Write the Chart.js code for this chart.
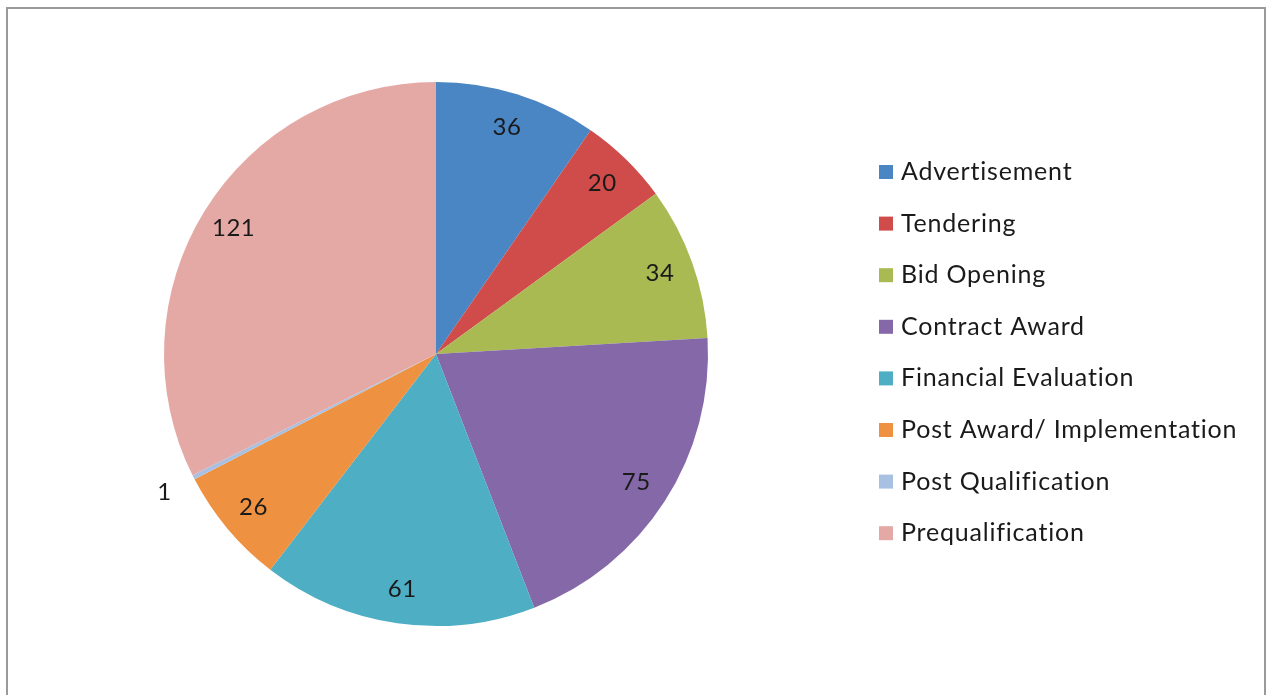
<!DOCTYPE html>
<html>
<head>
<meta charset="utf-8">
<script src="https://cdn.jsdelivr.net/npm/chart.js@4"></script>
<style>
html,body{margin:0;padding:0;background:#fff;}
#wrap{position:relative;width:1266px;height:695px;}
</style>
</head>
<body>
<div id="wrap"><canvas id="c" width="1266" height="695"></canvas></div>
<script>
const categories = ["Advertisement","Tendering","Bid Opening","Contract Award","Financial Evaluation","Post Award/ Implementation","Post Qualification","Prequalification"];
const values = [36,20,34,75,61,26,1,121];
const colors = ["#4A86C4","#CF4C4A","#A9BA52","#8468A8","#4DAEC4","#EE9141","#A8C0E2","#E5A9A5"];

const FONT = "Lato, 'Open Sans', sans-serif";

const framePlugin = {
  id: 'frame',
  beforeDraw(chart){
    const ctx = chart.ctx;
    ctx.save();
    ctx.fillStyle = '#fff';
    ctx.fillRect(0,0,chart.width,chart.height);
    ctx.strokeStyle = '#9a9a9a';
    ctx.lineWidth = 2;
    ctx.strokeRect(7,8,1258,720);
    ctx.restore();
  }
};

const labelPlugin = {
  id: 'sliceLabels',
  afterDatasetsDraw(chart){
    const ctx = chart.ctx;
    const meta = chart.getDatasetMeta(0);
    ctx.save();
    ctx.font = "24px " + FONT;
    ctx.letterSpacing = '0.5px';
    ctx.fillStyle = '#1a1a1a';
    ctx.textAlign = 'center';
    ctx.textBaseline = 'middle';
    meta.data.forEach((arc, i) => {
      const p = arc.getProps(['x','y','startAngle','endAngle','outerRadius'], true);
      const mid = (p.startAngle + p.endAngle)/2;
      const frac = (p.endAngle - p.startAngle) < 0.05 ? 1.12 : 0.875;
      const r = p.outerRadius * frac;
      ctx.fillText(String(chart.data.datasets[0].data[i]), p.x + Math.cos(mid)*r, p.y + Math.sin(mid)*r);
    });
    ctx.restore();
  }
};

const legendPlugin = {
  id: 'customLegend',
  afterDraw(chart){
    const ctx = chart.ctx;
    ctx.save();
    ctx.font = "25px " + FONT;
    ctx.letterSpacing = '0.8px';
    ctx.textBaseline = 'middle';
    ctx.textAlign = 'left';
    chart.data.labels.forEach((lab, i) => {
      const y = 172 + i*51.6;
      ctx.fillStyle = chart.data.datasets[0].backgroundColor[i];
      ctx.fillRect(879, y-7, 14, 14);
      ctx.fillStyle = '#1a1a1a';
      ctx.fillText(lab, 901, y);
    });
    ctx.restore();
  }
};

new Chart(document.getElementById('c'), {
  type: 'pie',
  data: {
    labels: categories,
    datasets: [{
      data: values,
      backgroundColor: colors,
      borderWidth: 0
    }]
  },
  options: {
    responsive: false,
    animation: false,
    layout: { padding: { top: 82, bottom: 69, left: 164, right: 558 } },
    plugins: { legend: { display: false }, tooltip: { enabled: false } }
  },
  plugins: [framePlugin, labelPlugin, legendPlugin]
});
</script>
</body>
</html>
